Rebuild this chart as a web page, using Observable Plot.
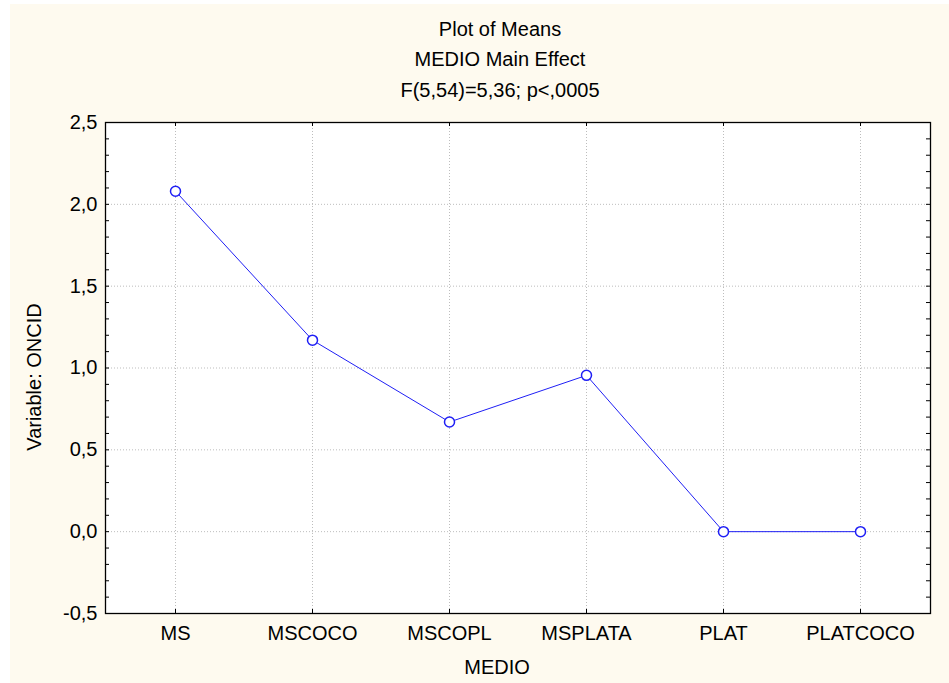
<!DOCTYPE html>
<html>
<head>
<meta charset="utf-8">
<script src="https://cdn.jsdelivr.net/npm/d3@7"></script>
<script src="https://cdn.jsdelivr.net/npm/@observablehq/plot@0.6"></script>
<style>
  html, body { margin: 0; padding: 0; background: #ffffff; }
  body { width: 949px; height: 683px; overflow: hidden; position: relative; }
  #panel {
    position: absolute; left: 10px; top: 4px; width: 939px; height: 679px;
    background: #fefaef;
    font-family: "Liberation Sans", Arial, sans-serif; color: #000;
  }
  #panel svg { position: absolute; left: 0; top: 0; }
  .title {
    position: absolute; left: 0; width: 980px; text-align: center;
    font-size: 20px; line-height: 20px; white-space: nowrap;
  }
  .ylabel {
    position: absolute; font-size: 20px; line-height: 20px; white-space: nowrap;
    left: 24px; top: 373px; transform: translate(-50%, -50%) rotate(-90deg);
  }
  .xlabel {
    position: absolute; left: 0; width: 974px; text-align: center; top: 653px;
    font-size: 20px; line-height: 20px;
  }
</style>
</head>
<body>
<div id="panel">
  <div class="title" style="top:15px">Plot of Means</div>
  <div class="title" style="top:45px">MEDIO Main Effect</div>
  <div class="title" style="top:76px">F(5,54)=5,36; p&lt;,0005</div>
  <div class="ylabel">Variable: ONCID</div>
  <div class="xlabel">MEDIO</div>
</div>
<script>
// Group means of ONCID for each MEDIO level
const categories = ["MS", "MSCOCO", "MSCOPL", "MSPLATA", "PLAT", "PLATCOCO"];
const means = [2.08, 1.17, 0.67, 0.955, 0, 0];

// Axis ticks
const yMajorTicks = [-0.5, 0, 0.5, 1.0, 1.5, 2.0, 2.5];
const yMinorTicks = d3.range(-5, 26).map(i => i / 10);

const data = categories.map((c, i) => ({medio: c, mean: means[i]}));

const W = 939, H = 679;
const mL = 95, mR = 19, mT = 118, mB = 70;
const innerW = W - mL - mR, innerH = H - mT - mB;
const tickLen = 4;

const fmt = d => d3.format(".1f")(d).replace("−", "-").replace(".", ",");
const gridStyle = {stroke: "#bdbdbd", strokeDasharray: "1,2", strokeWidth: 1, strokeOpacity: 1};
const blue = "#1f1ff5";

const chart = Plot.plot({
  width: W,
  height: H,
  marginLeft: mL,
  marginRight: mR,
  marginTop: mT,
  marginBottom: mB,
  style: {background: "transparent", fontFamily: "'Liberation Sans', Arial, sans-serif", fontSize: "20px", color: "#000"},
  x: {type: "point", domain: categories, padding: 0.5, label: null},
  y: {domain: [-0.5, 2.5], label: null},
  marks: [
    Plot.frame({fill: "white", stroke: "none"}),
    // dotted grid
    Plot.ruleY(yMajorTicks, {y: d => d, ...gridStyle}),
    Plot.ruleX(categories, {x: d => d, ...gridStyle}),
    // inward ticks on all sides
    Plot.ruleY(yMinorTicks, {y: d => d, insetRight: innerW - tickLen, stroke: "black"}),
    Plot.ruleY(yMinorTicks, {y: d => d, insetLeft: innerW - tickLen, stroke: "black"}),
    Plot.ruleX(categories, {x: d => d, insetTop: innerH - tickLen, stroke: "black"}),
    Plot.ruleX(categories, {x: d => d, insetBottom: innerH - tickLen, stroke: "black"}),
    // axes
    Plot.axisY(yMajorTicks, {tickSize: 0, tickPadding: 8, tickFormat: fmt, fontSize: 20}),
    Plot.axisX(categories, {tickSize: 0, tickPadding: 12, fontSize: 20}),
    // means
    Plot.line(data, {x: "medio", y: "mean", stroke: blue, strokeWidth: 1}),
    Plot.dot(data, {x: "medio", y: "mean", r: 5, stroke: blue, strokeWidth: 1.5, fill: "white"}),
    Plot.frame({stroke: "black", strokeWidth: 1.3})
  ]
});

document.getElementById("panel").appendChild(chart);
</script>
</body>
</html>
